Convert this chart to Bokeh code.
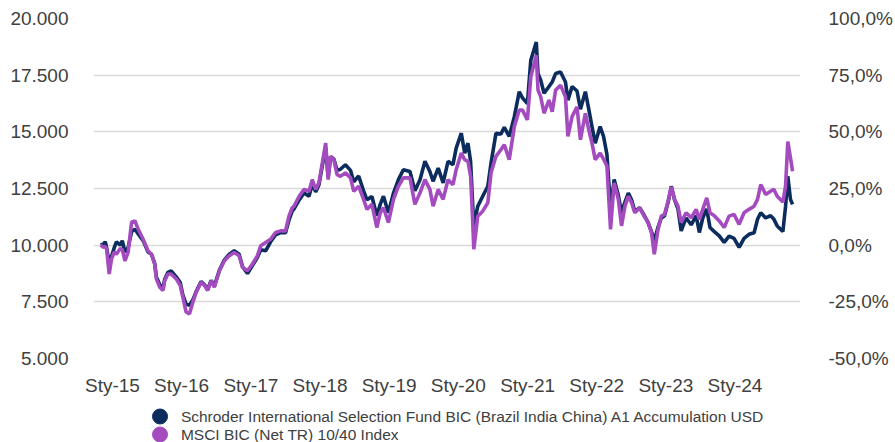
import pandas as pd
from bokeh.plotting import figure
from bokeh.models import Range1d, LinearAxis, FixedTicker, CustomJSTickFormatter, ColumnDataSource
from bokeh.layouts import column
from bokeh.core.properties import value
from bokeh.embed import file_html
from bokeh.resources import INLINE

# ---------------- data ----------------
DATES = [
    "2014-10-31", "2014-11-15", "2014-11-24", "2014-12-01", "2014-12-15", "2014-12-27",
    "2015-01-11", "2015-01-22", "2015-02-11", "2015-02-22", "2015-03-08", "2015-03-25",
    "2015-04-12", "2015-04-30", "2015-05-17", "2015-06-12", "2015-07-08", "2015-07-26",
    "2015-08-12", "2015-08-21", "2015-09-08", "2015-09-25", "2015-10-04", "2015-10-21",
    "2015-11-07", "2015-12-04", "2015-12-25", "2016-01-08", "2016-01-25", "2016-02-12",
    "2016-03-01", "2016-03-18", "2016-04-13", "2016-05-01", "2016-05-18", "2016-06-05",
    "2016-06-22", "2016-07-19", "2016-08-14", "2016-09-09", "2016-10-05", "2016-10-31",
    "2016-11-18", "2016-12-14", "2017-01-09", "2017-02-04", "2017-02-22", "2017-03-20",
    "2017-04-15", "2017-05-11", "2017-06-07", "2017-07-03", "2017-07-21", "2017-08-07",
    "2017-08-17", "2017-09-13", "2017-10-09", "2017-11-04", "2017-11-21", "2017-12-09",
    "2017-12-26", "2018-01-13", "2018-01-31", "2018-02-13", "2018-02-26", "2018-03-15",
    "2018-04-01", "2018-04-19", "2018-05-15", "2018-06-11", "2018-06-28", "2018-07-24",
    "2018-08-19", "2018-09-06", "2018-10-02", "2018-10-28", "2018-11-15", "2018-12-02",
    "2018-12-28", "2019-01-24", "2019-02-19", "2019-03-17", "2019-04-21", "2019-05-17",
    "2019-06-13", "2019-07-09", "2019-08-04", "2019-08-21", "2019-09-17", "2019-10-13",
    "2019-11-08", "2019-12-04", "2019-12-21", "2020-01-17", "2020-02-04", "2020-02-21",
    "2020-03-06", "2020-03-16", "2020-03-23", "2020-04-13", "2020-05-09", "2020-06-05",
    "2020-06-22", "2020-07-18", "2020-08-13", "2020-08-31", "2020-09-26", "2020-10-23",
    "2020-11-18", "2020-12-05", "2020-12-31", "2021-01-18", "2021-02-16", "2021-02-25",
    "2021-03-11", "2021-03-29", "2021-04-24", "2021-05-11", "2021-05-29", "2021-06-24",
    "2021-07-20", "2021-08-02", "2021-08-24", "2021-09-19", "2021-10-07", "2021-11-02",
    "2021-11-20", "2021-12-07", "2021-12-24", "2022-01-19", "2022-02-06", "2022-02-24",
    "2022-03-08", "2022-03-15", "2022-04-03", "2022-04-25", "2022-05-12", "2022-05-30",
    "2022-06-17", "2022-07-04", "2022-07-21", "2022-08-16", "2022-09-03", "2022-09-29",
    "2022-10-17", "2022-11-01", "2022-11-21", "2022-12-08", "2022-12-25", "2023-01-13",
    "2023-01-30", "2023-02-16", "2023-03-06", "2023-03-23", "2023-04-18", "2023-05-15",
    "2023-06-10", "2023-06-27", "2023-07-15", "2023-08-05", "2023-08-22", "2023-09-14",
    "2023-10-10", "2023-11-05", "2023-12-01", "2023-12-27", "2024-01-23", "2024-02-18",
    "2024-03-15", "2024-04-11", "2024-04-29", "2024-05-16", "2024-06-11", "2024-07-07",
    "2024-07-24", "2024-08-11", "2024-09-10", "2024-09-24", "2024-10-06", "2024-10-20",
    "2024-10-31",
]

FUND = [
    10000, 10050, 10150, 9900, 9200, 9500,
    9900, 10150, 10000, 10200, 9700, 9900,
    10600, 10700, 10500, 10200, 9700, 9600,
    9200, 8600, 8250, 8100, 8500, 8800,
    8870, 8600, 8350, 7800, 7400, 7350,
    7600, 7950, 8400, 8250, 8050, 8450,
    8200, 8900, 9350, 9600, 9750, 9600,
    9050, 8750, 9100, 9450, 9800, 9750,
    10150, 10450, 10550, 10550, 11100, 11500,
    11600, 12000, 12300, 12160, 12700, 12350,
    12650, 13500, 14300, 13000, 13900, 13800,
    13300, 13350, 13550, 13300, 12800, 13050,
    12400, 12000, 12150, 11300, 11800, 12160,
    11430, 12300, 12890, 13330, 13250, 12400,
    12890, 13700, 13250, 12820, 13400, 12750,
    13700, 13550, 14280, 14940, 14060, 14500,
    13700, 12000, 10850, 11720, 12160, 12600,
    13620, 14940, 14900, 15200, 14800, 15670,
    16770, 16500, 16250, 18160, 18960, 17570,
    17290, 16700, 17000, 17200, 17570, 17640,
    17200, 16400, 17000, 16800, 16000, 16770,
    16000, 15230, 14500, 15230, 14800, 14000,
    12500, 11500, 12900, 12200, 11430, 11900,
    12300, 12000, 11500, 11650, 11400, 11000,
    10600, 10200, 10800, 11200, 11300, 11900,
    12600, 12000, 11600, 10630, 11200, 10900,
    11300, 10560, 11200, 11600, 10780, 10600,
    10410, 10120, 10400, 10300, 9900, 10300,
    10480, 10550, 11140, 11430, 11200, 11300,
    11150, 10850, 10600, 11700, 13040, 12020,
    11800,
]

INDEX = [
    10000, 9900, 9950, 9850, 8730, 9390,
    9700, 9600, 9850, 9800, 9310, 9690,
    11010, 11070, 10700, 10260, 9750, 9600,
    9170, 8510, 8140, 8000, 8430, 8730,
    8730, 8510, 8220, 7700, 7050, 6970,
    7500, 7920, 8360, 8220, 8000, 8430,
    8140, 8870, 9310, 9530, 9680, 9530,
    9020, 8870, 9170, 9530, 9970, 10120,
    10260, 10560, 10630, 10630, 11280, 11650,
    11720, 12160, 12460, 12380, 12890, 12460,
    12750, 13620, 14500, 12890, 13920, 13770,
    13110, 13040, 13190, 12970, 12380, 12600,
    12020, 11580, 11800, 10780, 11430, 11650,
    11000, 12020, 12600, 12970, 12970, 11800,
    12310, 12890, 12460, 11720, 12460, 12020,
    12890, 12670, 13330, 14060, 13770, 13700,
    13040, 11280, 9820, 11280, 11500, 11870,
    13190, 13920, 14210, 14430, 13770, 15230,
    15960, 15960, 15530, 17430, 18380, 16840,
    16550, 15820, 16400, 15890, 16840, 17060,
    16550, 14800, 15670, 16100, 14650, 15820,
    15090, 14500, 13770, 14060, 13800, 13480,
    11720, 10700, 12750, 12020, 10850, 11720,
    12160, 11870, 11430, 11650, 11360, 11000,
    10560, 9600, 10700, 11280, 11360, 11940,
    12570, 12020, 11720, 11000, 11430, 11210,
    11580, 11140, 11580, 12090, 11430, 11300,
    11070, 10780, 11280, 11360, 10920, 11430,
    11580, 11720, 12020, 12670, 12240, 12380,
    12460, 12160, 11900, 12600, 14570, 13850,
    13260,
]

YEARS = [2015, 2016, 2017, 2018, 2019, 2020, 2021, 2022, 2023, 2024]
LEFT_TICKS = [5000, 7500, 10000, 12500, 15000, 17500, 20000]
RIGHT_TICKS = [-0.5, -0.25, 0.0, 0.25, 0.5, 0.75, 1.0]
SERIES_NAMES = [
    "Schroder International Selection Fund BIC (Brazil India China) A1 Accumulation USD",
    "MSCI BIC (Net TR) 10/40 Index",
]
SERIES_COLORS = ["#0c2c5e", "#a44bbf"]

# ---------------- main chart ----------------
src = ColumnDataSource(dict(date=pd.to_datetime(DATES), fund=FUND, index=INDEX))

FONT = "Liberation Sans"
TXT = "#404040"
W = 895
FRAME_L, FRAME_R = 93, 805

p = figure(
    width=W, height=398,
    x_axis_type="datetime",
    x_range=Range1d(pd.Timestamp("2014-09-23"), pd.Timestamp("2024-12-12")),
    y_range=Range1d(5000, 20000),
    output_backend="svg", toolbar_location=None,
    min_border_left=FRAME_L, min_border_right=W - FRAME_R,
    min_border_top=18, min_border_bottom=37,
)
p.outline_line_color = None
p.background_fill_color = "white"

p.line("date", "fund", source=src, color=SERIES_COLORS[0], line_width=3.6)
p.line("date", "index", source=src, color=SERIES_COLORS[1], line_width=3.6)

# left axis
ya = p.yaxis[0]
ya.ticker = FixedTicker(ticks=LEFT_TICKS)
ya.formatter = CustomJSTickFormatter(code="""
    const s = Math.round(tick).toString();
    return s.replace(/\\B(?=(\\d{3})+(?!\\d))/g, '.');
""")
# right axis
p.extra_y_ranges = {"pct": Range1d(-0.5, 1.0)}
ra = LinearAxis(y_range_name="pct")
ra.ticker = FixedTicker(ticks=RIGHT_TICKS)
ra.formatter = CustomJSTickFormatter(code="""
    return (tick * 100).toFixed(1).replace('.', ',') + '%';
""")
p.add_layout(ra, "right")

# x axis
xa = p.xaxis[0]
year_ticks = [pd.Timestamp(f"{y}-01-01").value / 1e6 for y in YEARS]
xa.ticker = FixedTicker(ticks=year_ticks)
xa.formatter = CustomJSTickFormatter(code="""
    const d = new Date(tick);
    return 'Sty-' + String(d.getUTCFullYear()).slice(-2);
""")

for ax in [ya, ra, xa]:
    ax.axis_line_color = None
    ax.major_tick_line_color = None
    ax.minor_tick_line_color = None
    ax.major_label_text_font = FONT
    ax.major_label_text_font_size = "19px"
    ax.major_label_text_color = TXT
ya.major_label_standoff = 19
ra.major_label_standoff = 22
xa.major_label_standoff = 10

p.xgrid.visible = False
p.ygrid.ticker = FixedTicker(ticks=LEFT_TICKS)
p.ygrid.grid_line_color = "#d9d9d9"
p.ygrid.grid_line_width = 1.5

# ---------------- legend (frame aligned with main frame; x in page px) ----------------
LH = 44
leg = figure(
    width=W, height=LH,
    x_range=Range1d(FRAME_L, FRAME_R), y_range=Range1d(LH, 0),
    x_axis_type=None, y_axis_type=None,
    output_backend="svg", toolbar_location=None,
    min_border_left=FRAME_L, min_border_right=W - FRAME_R,
    min_border_top=0, min_border_bottom=0,
)
leg.outline_line_color = None
leg.grid.visible = False
lsrc = ColumnDataSource(dict(name=SERIES_NAMES, color=SERIES_COLORS,
                             mx=[160, 160], my=[18, 36], tx=[181, 181]))
leg.scatter("mx", "my", source=lsrc, size=15, color="color", marker="circle")
leg.text("tx", "my", text="name", source=lsrc, text_baseline="middle",
         text_font=value(FONT), text_font_size="15.5px", text_color=TXT)

layout = column(p, leg, spacing=0)
open("out.html", "w").write(file_html(layout, INLINE))
